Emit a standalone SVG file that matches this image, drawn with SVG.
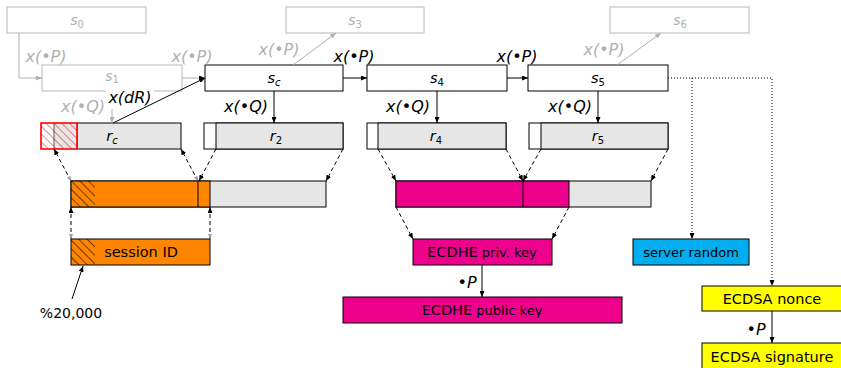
<svg xmlns="http://www.w3.org/2000/svg" width="841" height="368" viewBox="0 0 841 368">
<style>
text{font-family:"DejaVu Sans",sans-serif;font-size:14px;fill:#000}
.g{fill:#b0b0b0}
.i{font-style:italic}
.m{font-size:16px}
.sub{font-size:10px}
.box{fill:#fff;stroke:#000;stroke-width:1}
.fbox{fill:#fff;stroke:#b8b8b8;stroke-width:1}
.gray{fill:#e6e6e6;stroke:#000;stroke-width:1}
.ln{stroke:#000;stroke-width:1;fill:none}
.lng{stroke:#b0b0b0;stroke-width:1;fill:none}
.dash{stroke:#000;stroke-width:1;fill:none;stroke-dasharray:4,3}
.dot{stroke:#000;stroke-width:1;fill:none;stroke-dasharray:1,2}
.sm{font-size:13px}
.lab{font-size:14.5px}
</style>
<defs>
<marker id="ah" markerWidth="6" markerHeight="5" refX="6" refY="2.5" orient="auto" markerUnits="userSpaceOnUse"><path d="M0,0 L6,2.5 L0,5 z" fill="#000"/></marker>
<marker id="ahg" markerWidth="6" markerHeight="5" refX="6" refY="2.5" orient="auto" markerUnits="userSpaceOnUse"><path d="M0,0 L6,2.5 L0,5 z" fill="#b0b0b0"/></marker>
<marker id="tg" markerWidth="5" markerHeight="4" refX="5" refY="2" orient="auto-start-reverse" markerUnits="userSpaceOnUse"><path d="M0,0 L5,2 L0,4 z" fill="#a0a0a0"/></marker>
<pattern id="hk" patternUnits="userSpaceOnUse" width="6" height="6" patternTransform="rotate(-45)"><line x1="0" y1="0" x2="0" y2="6" stroke="#000" stroke-width="1.1"/></pattern>
<pattern id="hr" patternUnits="userSpaceOnUse" width="5.5" height="5.5" patternTransform="rotate(-45)"><line x1="0" y1="0" x2="0" y2="5.5" stroke="#ff0000" stroke-width="1"/></pattern>
</defs>

<!-- faded states -->
<g id="s0"><rect class="fbox" x="7" y="7" width="139" height="26"/><text class="g" x="77" y="25" text-anchor="middle"><tspan class="i">s</tspan><tspan class="sub" dy="3">0</tspan></text></g>
<g id="s1"><rect class="fbox" x="42" y="65" width="140" height="26"/><text class="g" x="112" y="81" text-anchor="middle"><tspan class="i">s</tspan><tspan class="sub" dy="2">1</tspan></text></g>
<g id="s3"><rect class="fbox" x="286" y="7" width="138" height="26"/><text class="g" x="355" y="25" text-anchor="middle"><tspan class="i">s</tspan><tspan class="sub" dy="3">3</tspan></text></g>
<g id="s6"><rect class="fbox" x="610" y="7" width="139" height="26"/><text class="g" x="680" y="25" text-anchor="middle"><tspan class="i">s</tspan><tspan class="sub" dy="3">6</tspan></text></g>

<!-- x(dR) label background -->
<g id="lbl-dR"><rect x="106" y="85" width="48" height="24" fill="#fff"/><text class="i m" x="130" y="103" text-anchor="middle">x(dR)</text></g>

<!-- states -->
<g id="sc"><rect class="box" x="205" y="65" width="138" height="26"/><text class="lab" x="274" y="83" text-anchor="middle"><tspan class="i">s</tspan><tspan class="sub i" dy="3">c</tspan></text></g>
<g id="s4"><rect class="box" x="367" y="65" width="140" height="26"/><text class="lab" x="437" y="83" text-anchor="middle"><tspan class="i">s</tspan><tspan class="sub" dy="3">4</tspan></text></g>
<g id="s5"><rect class="box" x="528" y="65" width="140" height="26"/><text class="lab" x="598" y="83" text-anchor="middle"><tspan class="i">s</tspan><tspan class="sub" dy="3">5</tspan></text></g>

<!-- random outputs -->
<g id="rc">
<rect class="gray" x="77" y="123" width="104" height="26"/>
<rect x="41" y="123" width="13" height="26" fill="#fff"/>
<rect x="54" y="123" width="23" height="26" fill="#e6e6e6"/>
<rect x="41" y="123" width="36" height="26" fill="url(#hr)"/>
<line x1="54" y1="123" x2="54" y2="149" stroke="#555" stroke-width="1"/>
<rect x="41" y="123" width="36" height="26" fill="none" stroke="#ff0000" stroke-width="1.6"/>
<text class="lab" x="112" y="141" text-anchor="middle"><tspan class="i">r</tspan><tspan class="sub i" dy="3">c</tspan></text>
</g>
<g id="r2"><rect class="box" x="204" y="123" width="139" height="26"/><rect class="gray" x="216" y="123" width="127" height="26"/><text class="lab" x="276" y="141" text-anchor="middle"><tspan class="i">r</tspan><tspan class="sub" dy="3">2</tspan></text></g>
<g id="r4"><rect class="box" x="367" y="123" width="139" height="26"/><rect class="gray" x="378" y="123" width="128" height="26"/><text class="lab" x="436" y="141" text-anchor="middle"><tspan class="i">r</tspan><tspan class="sub" dy="3">4</tspan></text></g>
<g id="r5"><rect class="box" x="529" y="123" width="139" height="26"/><rect class="gray" x="541" y="123" width="127" height="26"/><text class="lab" x="598" y="141" text-anchor="middle"><tspan class="i">r</tspan><tspan class="sub" dy="3">5</tspan></text></g>

<!-- combined bars -->
<g id="orange-bar">
<rect x="71" y="181" width="255" height="26" fill="#e6e6e6" stroke="#000"/>
<rect x="71" y="181" width="139" height="26" fill="#ff8400" stroke="#000"/>
<rect x="71" y="181" width="24" height="26" fill="url(#hk)"/>
<line x1="198" y1="181" x2="198" y2="207" stroke="#000"/>
</g>
<g id="magenta-bar">
<rect x="396" y="181" width="255" height="26" fill="#e6e6e6" stroke="#000"/>
<rect x="396" y="181" width="173" height="26" fill="#ec008c" stroke="#000"/>
<line x1="523" y1="181" x2="523" y2="207" stroke="#000"/>
</g>

<!-- outputs -->
<g id="session-id"><rect x="71" y="239" width="139" height="26" fill="#ff8400" stroke="#000"/><rect x="71" y="239" width="24" height="26" fill="url(#hk)"/><text class="lab" x="141" y="257" text-anchor="middle">session ID</text></g>
<g id="ecdhe-priv"><rect x="413" y="239" width="139" height="26" fill="#ec008c" stroke="#000"/><text class="lab" x="482" y="257" text-anchor="middle">ECDHE<tspan class="sm"> priv. key</tspan></text></g>
<g id="ecdhe-pub"><rect x="343" y="297" width="279" height="26" fill="#ec008c" stroke="#000"/><text class="lab" x="482" y="315" text-anchor="middle">ECDHE<tspan class="sm"> public key</tspan></text></g>
<g id="server-random"><rect x="633" y="239" width="116" height="26" fill="#00aeef" stroke="#000"/><text class="sm" x="691" y="257" text-anchor="middle">server random</text></g>
<g id="ecdsa-nonce"><rect x="702" y="286" width="141" height="25" fill="#ffff00" stroke="#000"/><text class="lab" x="772" y="304" text-anchor="middle">ECDSA nonce</text></g>
<g id="ecdsa-sig"><rect x="702" y="343" width="141" height="30" fill="#ffff00" stroke="#000"/><text class="lab" x="772" y="362" text-anchor="middle">ECDSA signature</text></g>
<g id="note"><text x="71" y="318" text-anchor="middle">%20,000</text></g>

<!-- connectors -->
<g id="connectors">
<path class="lng" d="M19,33 V78 H42" marker-end="url(#ahg)"/>
<line class="lng" x1="182" y1="78" x2="205" y2="78" marker-end="url(#ah)"/>
<line class="lng" x1="293" y1="65" x2="336" y2="33" marker-end="url(#ahg)"/>
<line class="lng" x1="617" y1="65" x2="661" y2="33" marker-end="url(#ahg)"/>
<line class="lng" x1="112" y1="109" x2="112" y2="123" marker-end="url(#ahg)"/>
<line class="ln" x1="113" y1="123" x2="205" y2="78" marker-end="url(#ah)"/>
<line class="ln" x1="343" y1="78" x2="367" y2="78" marker-end="url(#ah)"/>
<line class="ln" x1="507" y1="78" x2="528" y2="78" marker-end="url(#ah)"/>
<line class="ln" x1="274" y1="91" x2="274" y2="123" marker-end="url(#ah)"/>
<line class="ln" x1="437" y1="91" x2="437" y2="123" marker-end="url(#ah)"/>
<line class="ln" x1="598" y1="91" x2="598" y2="123" marker-end="url(#ah)"/>

<line class="dash" x1="71" y1="181" x2="54" y2="149" marker-start="url(#tg)" marker-end="url(#ah)"/>
<line class="dash" x1="198" y1="181" x2="181" y2="149" marker-start="url(#tg)" marker-end="url(#ah)"/>
<line class="dash" x1="216" y1="149" x2="199" y2="181" marker-end="url(#ah)"/>
<line class="dash" x1="343" y1="149" x2="326" y2="181" marker-end="url(#ah)"/>
<line class="dash" x1="71" y1="239" x2="71" y2="207" marker-start="url(#tg)" marker-end="url(#ah)"/>
<line class="dash" x1="210" y1="239" x2="210" y2="207" marker-start="url(#tg)" marker-end="url(#ah)"/>

<line class="dash" x1="378" y1="149" x2="396" y2="181" marker-end="url(#ah)"/>
<line class="dash" x1="506" y1="149" x2="523" y2="181" marker-end="url(#ah)"/>
<line class="dash" x1="541" y1="149" x2="523" y2="181" marker-end="url(#ah)"/>
<line class="dash" x1="668" y1="149" x2="651" y2="181" marker-end="url(#ah)"/>
<line class="dash" x1="396" y1="207" x2="413" y2="239" marker-end="url(#ah)"/>
<line class="dash" x1="569" y1="207" x2="552" y2="239" marker-end="url(#ah)"/>

<line class="ln" x1="482" y1="265" x2="482" y2="297" marker-end="url(#ah)"/>
<line class="ln" x1="772" y1="311" x2="772" y2="343" marker-end="url(#ah)"/>
<path class="dot" d="M668,78 H772 V286" marker-end="url(#ah)"/>
<line class="dot" x1="692" y1="78" x2="692" y2="239" marker-end="url(#ah)"/>
<line class="ln" x1="72" y1="299" x2="83" y2="266" marker-end="url(#ah)"/>
</g>

<!-- edge labels -->
<g id="edge-labels">
<text class="g i m" x="46" y="62" text-anchor="middle">x(•P)</text>
<text class="g i m" x="192" y="62" text-anchor="middle">x(•P)</text>
<text class="g i m" x="279" y="55" text-anchor="middle">x(•P)</text>
<text class="g i m" x="604" y="55" text-anchor="middle">x(•P)</text>
<text class="i m" x="354" y="62" text-anchor="middle">x(•P)</text>
<text class="i m" x="517" y="62" text-anchor="middle">x(•P)</text>
<text class="g i m" x="83" y="112" text-anchor="middle">x(•Q)</text>
<text class="i m" x="246" y="112" text-anchor="middle">x(•Q)</text>
<text class="i m" x="408" y="112" text-anchor="middle">x(•Q)</text>
<text class="i m" x="570" y="112" text-anchor="middle">x(•Q)</text>
<text class="i m" x="467" y="288" text-anchor="middle">•P</text>
<text class="i m" x="756" y="335" text-anchor="middle">•P</text>
</g>
</svg>
